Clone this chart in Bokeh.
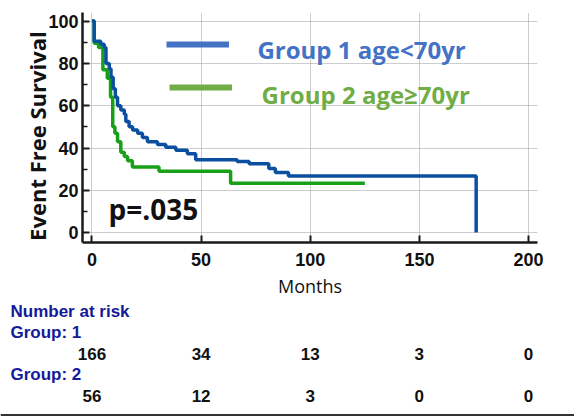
from bokeh.plotting import figure
from bokeh.models import Range1d, FixedTicker, Label, Legend, LegendItem, ColumnDataSource, Span
from bokeh.core.properties import value
from bokeh.embed import file_html
from bokeh.resources import INLINE

# ---- data ----
g1_months = [0, 1, 4, 5.6, 6.4, 7.9, 8.7, 9.7, 10.7, 11.7, 13.2, 14.8, 15.5, 17, 18.6,
             20.9, 23.1, 25.4, 30, 33.8, 38.4, 43.7, 47.5, 66.5, 72, 81, 84, 90, 176]
g1_surv = [100, 90.5, 89, 87.5, 80, 77.5, 73.5, 68, 64, 60, 58, 56, 52.5, 50, 48.5,
           47, 45, 43, 41.7, 40.4, 38.9, 37.3, 34.5, 33.6, 32.6, 30.3, 28.4, 26.8, 0]
g2_months = [0, 1, 3, 5, 7, 8.5, 9.5, 10.5, 11.7, 13.2, 14.8, 16.3, 18.5, 30.7, 63.5, 125]
g2_surv = [100, 89.5, 87.5, 77, 73, 64, 50, 47, 43, 38, 36, 34, 31, 29, 23.3, 23.3]

x_ticks = [0, 50, 100, 150, 200]
y_ticks = [0, 20, 40, 60, 80, 100]
risk_g1 = ["166", "34", "13", "3", "0"]
risk_g2 = ["56", "12", "3", "0", "0"]
risk_headers = ["Number at risk", "Group: 1", "Group: 2"]
legend_labels = ["Group 1 age<70yr", "Group 2 age\u226570yr"]
p_text = "p=.035"

BLUE = "#0b4fa0"
GREEN = "#18a018"
LBLUE = "#4472c4"
LGREEN = "#70ad47"
NAVY = "#141a9a"
INK = "#111111"

p = figure(width=574, height=300, output_backend="svg", toolbar_location=None,
           x_range=Range1d(-4.35, 204.1), y_range=Range1d(-4.67, 104.06),
           min_border_left=82, min_border_right=37, min_border_top=12, min_border_bottom=55)
p.outline_line_color = None

# grids
for g in (p.xgrid, p.ygrid):
    g.grid_line_color = "#9a9a9a"
    g.grid_line_dash = "1 1"
    g.grid_line_width = 1
p.xgrid.ticker = FixedTicker(ticks=x_ticks)
p.ygrid.ticker = FixedTicker(ticks=y_ticks)

# axes
p.xaxis.ticker = FixedTicker(ticks=x_ticks)
p.yaxis.ticker = FixedTicker(ticks=y_ticks, minor_ticks=[10, 30, 50, 70, 90])
for ax in (p.xaxis, p.yaxis):
    ax.axis_line_width = 2.5
    ax.axis_line_color = "#1a1a1a"
    ax.major_tick_line_color = "#1a1a1a"
    ax.major_tick_line_width = 2
    ax.major_tick_in = 7
    ax.major_tick_out = 0
    ax.minor_tick_in = 5
    ax.minor_tick_out = 0
    ax.minor_tick_line_color = "#1a1a1a"
    ax.minor_tick_line_width = 1.5
    ax.major_label_text_font = "Liberation Sans"
    ax.major_label_text_font_style = "bold"
    ax.major_label_text_font_size = "18px"
    ax.major_label_text_color = INK
p.xaxis.minor_tick_line_color = None
p.xaxis.major_label_standoff = 10
p.yaxis.major_label_standoff = 4

p.xaxis.axis_label = "Months"
p.xaxis.axis_label_text_font = "Open Sans"
p.xaxis.axis_label_text_font_style = "normal"
p.xaxis.axis_label_text_font_size = "18px"
p.xaxis.axis_label_text_color = INK
p.xaxis.axis_label_standoff = 5

# trailing no-break spaces shift the centred label slightly downward, as in the original
p.yaxis.axis_label = "Event Free Survival\u00a0\u00a0\u00a0"
p.yaxis.axis_label_text_font = "Open Sans"
p.yaxis.axis_label_text_font_style = "bold"
p.yaxis.axis_label_text_font_size = "22px"
p.yaxis.axis_label_text_color = INK
p.yaxis.axis_label_standoff = -7

# curves
p.step(g2_months, g2_surv, mode="after", line_color=GREEN, line_width=3.5)
p.step(g1_months, g1_surv, mode="after", line_color=BLUE, line_width=3.5)

# legend swatches (renderers without drawable points) + legend texts
nan_src = ColumnDataSource(data=dict(x=[float("nan")], y=[float("nan")]))
r_l1 = p.line("x", "y", source=nan_src, line_color=LBLUE, line_width=6)
r_l2 = p.line("x", "y", source=nan_src, line_color=LGREEN, line_width=6)
common = dict(glyph_width=63, glyph_height=14, label_height=14, label_width=0,
              label_standoff=0, padding=0, margin=0, spacing=0,
              background_fill_alpha=0, border_line_color=None,
              label_text_font_size="1px")
leg1 = Legend(items=[LegendItem(label="", renderers=[r_l1])], location=(84, 191), **common)
leg2 = Legend(items=[LegendItem(label="", renderers=[r_l2])], location=(87, 148), **common)
p.add_layout(leg1, "center")
p.add_layout(leg2, "center")
lab = dict(text_font="Open Sans", text_font_style="bold", text_font_size="24px",
           text_baseline="middle", text_align="left")
p.add_layout(Label(x=75.8, y=86.6, text=legend_labels[0], text_color=LBLUE, **lab))
p.add_layout(Label(x=77.7, y=65.3, text=legend_labels[1], text_color=LGREEN, **lab))

# p-value
p.add_layout(Label(x=7.6, y=11.4, text=p_text, text_font="Open Sans", text_font_style="bold",
                   text_font_size="28px", text_color=INK, text_baseline="middle"))

# ---- number at risk table (own figure, same horizontal scale) ----
t = figure(width=574, height=116, output_backend="svg", toolbar_location=None,
           x_axis_location=None, y_axis_location=None,
           x_range=Range1d(-41.92, 221.1), y_range=Range1d(4.955, -0.504),
           min_border_left=0, min_border_right=0, min_border_top=0, min_border_bottom=0)
t.outline_line_color = None
t.grid.visible = False

hdr_rows = [0, 1, 3]
t.text(x=[-37.34] * 3, y=hdr_rows, text=risk_headers, text_font=value("Liberation Sans"),
       text_font_style="bold", text_font_size="17px", text_color=NAVY,
       text_baseline="middle", text_align="left")
t.text(x=x_ticks, y=[2] * 5, text=risk_g1, text_font=value("Liberation Sans"),
       text_font_style="bold", text_font_size="17px", text_color=INK,
       text_baseline="middle", text_align="center")
t.text(x=x_ticks, y=[4] * 5, text=risk_g2, text_font=value("Liberation Sans"),
       text_font_style="bold", text_font_size="17px", text_color=INK,
       text_baseline="middle", text_align="center")
t.add_layout(Span(location=4.885, dimension="width", line_color="#333333", line_width=2))

open("out.html", "w").write(file_html([p, t], INLINE))
